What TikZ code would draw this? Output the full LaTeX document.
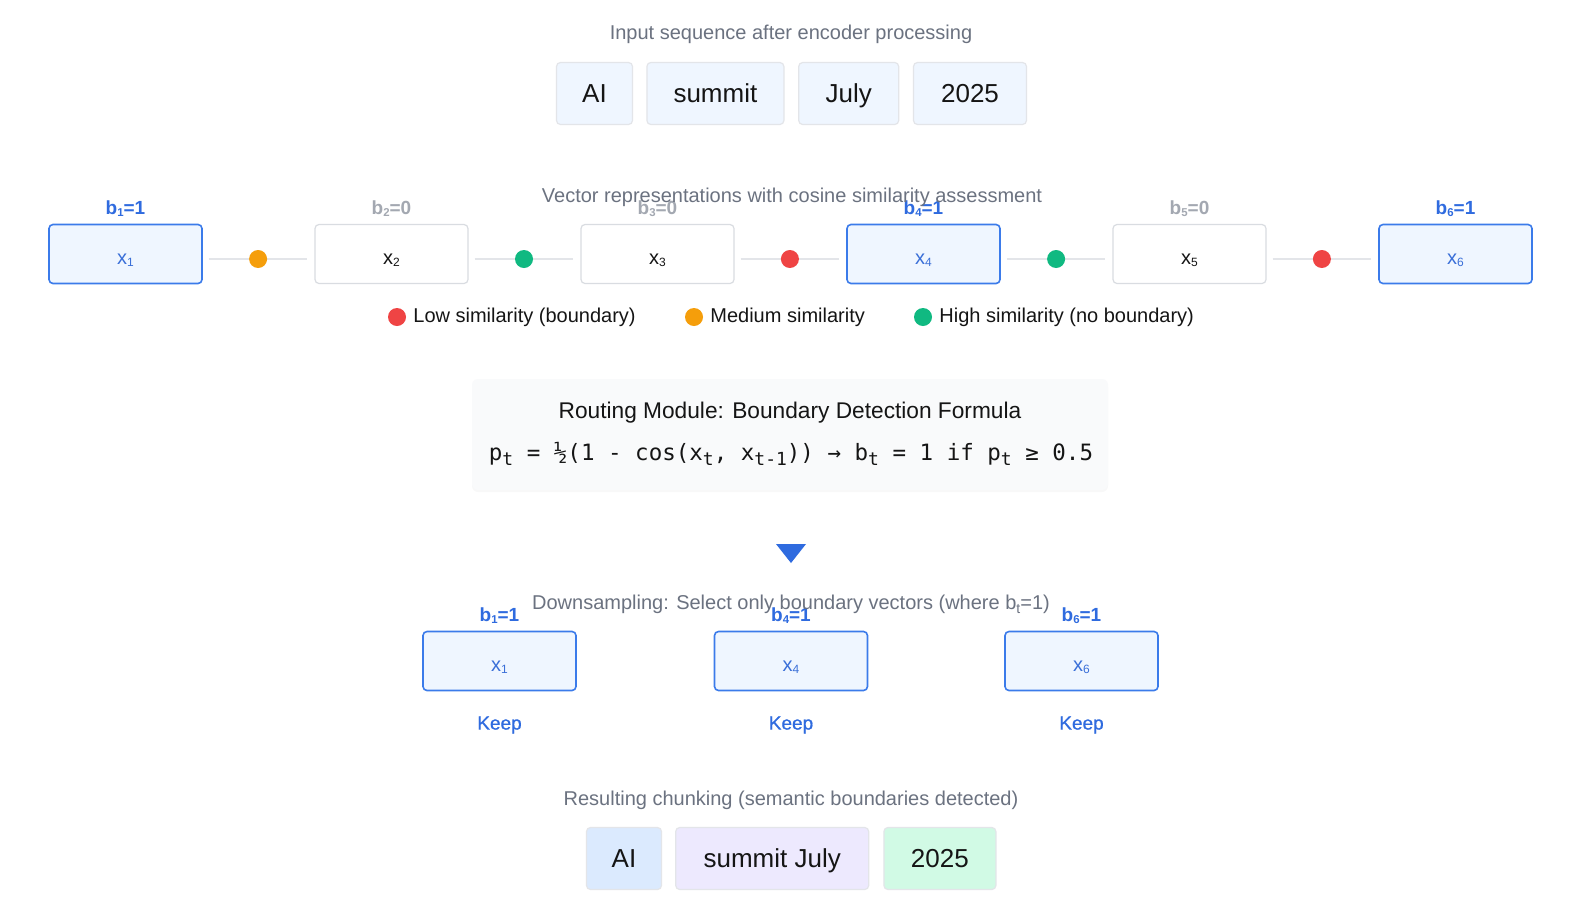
\documentclass[tikz,border=0pt]{standalone}
\usepackage{fontspec}
\setmainfont{Liberation Sans}
\newfontfamily\codefont{DejaVu Sans Mono}
\newfontfamily\medfont[FakeBold=0.8]{Liberation Sans}
\usetikzlibrary{positioning,shadows}

\definecolor{capgray}{HTML}{6B7280}
\definecolor{zerogray}{HTML}{A3A8B1}
\definecolor{edgegray}{HTML}{E3E5E9}
\definecolor{plainedge}{HTML}{D9DCE1}
\definecolor{softblue}{HTML}{EFF6FF}
\definecolor{keepblue}{HTML}{2F6BDF}
\definecolor{edgeblue}{HTML}{3B7BEA}
\definecolor{inkblue}{HTML}{3A6FD8}
\definecolor{ink}{HTML}{151515}
\definecolor{simlow}{HTML}{EF4444}
\definecolor{simmid}{HTML}{F59E0B}
\definecolor{simhigh}{HTML}{10B981}
\definecolor{formulabg}{HTML}{F9FAFB}
\definecolor{chunkA}{HTML}{DBEAFE}
\definecolor{chunkB}{HTML}{EDE9FE}
\definecolor{chunkC}{HTML}{D1FAE5}

\newcommand{\px}[1]{\fontsize{#1}{#1}\selectfont}
\newcommand{\idx}[1]{\raisebox{-0.1em}{\scalebox{0.6}{#1}}}
\newcommand{\msub}[1]{\raisebox{-0.25em}{\scalebox{0.8}{#1}}}

\tikzset{token/.style = {draw=edgegray, fill=#1, rounded corners=4pt, line width=1.2pt,
                         minimum height=62pt, inner sep=0pt, text height=18.6pt, text depth=0pt,
                         text=ink, font=\px{26}},
         token/.default=softblue,
         caption/.style = {text=capgray, font=\px{20}, inner sep=0pt},
         vecplain/.style = {draw=plainedge, fill=white, rounded corners=4pt, line width=1.2pt,
                            minimum width=153pt, minimum height=59pt, text height=20pt,
                            text depth=0pt, text=ink, font=\px{20}},
         vecbnd/.style = {vecplain, draw=edgeblue, fill=softblue, line width=1.6pt, text=inkblue},
         bflag/.style = {font=\bfseries\px{19}, inner sep=0pt, text=#1},
         link/.style = {draw=edgegray, line width=2.5pt},
         simdot/.style = {circle, fill=#1, minimum size=18pt, inner sep=0pt},
         legend/.style = {font=\px{20}, text=ink, inner sep=0pt},
         keepnote/.style = {font=\medfont\px{19}, text=keepblue, inner sep=0pt}
        }

\begin{document}
\begin{tikzpicture}[x=1pt,y=-1pt]
  \fill[white] (0,0) rectangle (1580,906);
  \useasboundingbox (0,0) rectangle (1580,906);

  \node[caption] (inputCap) at (791,34) {Input sequence after encoder processing};
  \node[token, minimum width=76pt] (tokAI) at (594.5,93.5) {AI};
  \node[token, minimum width=137pt, right=13.2pt of tokAI] (tokSummit) {summit};
  \node[token, minimum width=100pt, right=13.6pt of tokSummit] (tokJuly) {July};
  \node[token, minimum width=113pt, right=13.6pt of tokJuly] (tokYear) {2025};

  \foreach \i/\kind/\flag/\col in {1/vecbnd/1/keepblue, 2/vecplain/0/zerogray, 3/vecplain/0/zerogray,
                                   4/vecbnd/1/keepblue, 5/vecplain/0/zerogray, 6/vecbnd/1/keepblue}
  {
    \node[\kind] (vec\i) at (125.5+266*\i-266,254) {x\idx{\i}};
    \node[bflag=\col] (flag\i) at (125.5+266*\i-266,209) {b\idx{\i}=\flag};
  }
  \foreach \a/\b/\col in {1/2/simmid, 2/3/simhigh, 3/4/simlow, 4/5/simhigh, 5/6/simlow}
  {
    \draw[link] ([shift={(6pt,-5pt)}]vec\a.east) -- node[simdot=\col] (dot\a\b) {}
                ([shift={(-7pt,-5pt)}]vec\b.west);
  }
  \node[caption] (vecCap) at (792,197) {Vector representations with cosine similarity assessment};

  \node[simdot=simlow] (legLow) at (397,317) {};
  \node[legend, right=7pt of legLow] (legLowText) {Low similarity (boundary)};
  \node[simdot=simmid] (legMid) at (694,317) {};
  \node[legend, right=7pt of legMid] (legMidText) {Medium similarity};
  \node[simdot=simhigh] (legHigh) at (923,317) {};
  \node[legend, right=7pt of legHigh] (legHighText) {High similarity (no boundary)};

  \node[fill=formulabg, rounded corners=6pt, minimum width=636pt, minimum height=111pt,
        drop shadow={opacity=0.05, shadow xshift=0pt, shadow yshift=-2pt}] (routing) at (790,434.5) {};
  \node[text=ink, font=\px{22.7}, inner sep=0pt] (routingTitle) at (790,413)
       {Routing Module: Boundary Detection Formula};
  \node[text=ink, font=\codefont\px{22.5}, inner sep=0pt] (routingFormula) at (791,454)
       {p\msub{t} = ½(1 - cos(x\msub{t}, x\msub{t-1})) → b\msub{t} = 1 if p\msub{t} ≥ 0.5};

  \fill[keepblue] (776,544) -- (806,544) -- (791,563) -- cycle;

  \foreach \i/\x in {1/499.5, 4/791, 6/1081.5}
  {
    \node[vecbnd] (keep\i) at (\x,661) {x\idx{\i}};
    \node[bflag=keepblue] (keepFlag\i) at (\x,616) {b\idx{\i}=1};
    \node[keepnote] (keepNote\i) at (\x,725) {Keep};
  }
  \node[caption] (downCap) at (791,604)
       {Downsampling: Select only boundary vectors (where b\raisebox{-0.2em}{\scalebox{0.7}{t}}=1)};

  \node[caption] (chunkCap) at (791,800) {Resulting chunking (semantic boundaries detected)};
  \node[token=chunkA, minimum width=75pt] (chunkAI) at (624,858.5) {AI};
  \node[token=chunkB, minimum width=193pt, right=13pt of chunkAI] (chunkMid) {summit July};
  \node[token=chunkC, minimum width=112pt, right=14pt of chunkMid] (chunkYear) {2025};
\end{tikzpicture}
\end{document}
